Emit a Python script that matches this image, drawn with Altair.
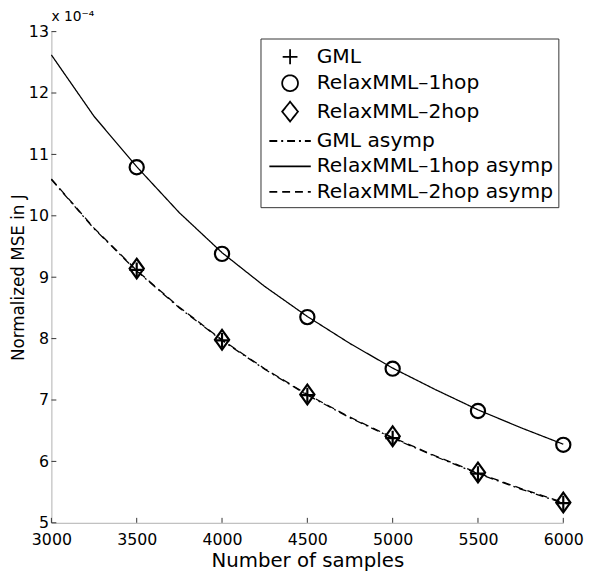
import altair as alt
import pandas as pd

FONT = "DejaVu Sans"

# asymptotic curves (values in units of 1e-4)
x_curve = [3000, 3250, 3500, 3750, 4000, 4250, 4500, 4750, 5000, 5250, 5500, 5750, 6000]
gml_asymp = [10.59, 9.79, 9.10, 8.50, 7.97, 7.50, 7.08, 6.71, 6.38, 6.08, 5.80, 5.55, 5.32]
one_hop_asymp = [12.62, 11.62, 10.80, 10.05, 9.40, 8.85, 8.36, 7.92, 7.52, 7.17, 6.84, 6.55, 6.28]
two_hop_asymp = [10.60, 9.80, 9.11, 8.51, 7.98, 7.51, 7.09, 6.72, 6.39, 6.09, 5.81, 5.56, 5.33]

# simulated points
x_markers = [3500, 4000, 4500, 5000, 5500, 6000]
gml = [9.12, 7.97, 7.08, 6.38, 5.80, 5.32]
one_hop = [10.79, 9.38, 8.35, 7.51, 6.82, 6.27]
two_hop = [9.14, 7.98, 7.09, 6.41, 5.82, 5.33]

series_markers = ["GML", "RelaxMML\u20131hop", "RelaxMML\u20132hop"]
series_lines = ["GML asymp", "RelaxMML\u20131hop asymp", "RelaxMML\u20132hop asymp"]
all_series = series_markers + series_lines

x_ticks = [3000, 3500, 4000, 4500, 5000, 5500, 6000]
y_ticks = [5, 6, 7, 8, 9, 10, 11, 12, 13]

rows = []
for name, vals in zip(series_lines, [gml_asymp, one_hop_asymp, two_hop_asymp]):
    for xv, yv in zip(x_curve, vals):
        rows.append({"x": xv, "y": yv, "series": name})
df_lines = pd.DataFrame(rows)

rows = []
for name, vals in zip(series_markers, [gml, one_hop, two_hop]):
    for xv, yv in zip(x_markers, vals):
        rows.append({"x": xv, "y": yv, "series": name})
df_points = pd.DataFrame(rows)

df_xt = pd.DataFrame({"x": x_ticks})
df_yt = pd.DataFrame({"y": y_ticks})

xscale = alt.Scale(domain=[3000, 6000], nice=False, zero=False)
yscale = alt.Scale(domain=[5, 13], nice=False, zero=False)

x_axis = alt.Axis(values=x_ticks, format="d", ticks=False, grid=False,
                  labelFlush=False, labelOverlap=False, labelPadding=9,
                  title="Number of samples", titlePadding=3)
y_axis = alt.Axis(values=y_ticks, format="d", ticks=False, grid=False,
                  labelPadding=3, labelOverlap=False,
                  title="Normalized MSE in J", titlePadding=1, titleFontSize=17)

color_scale = alt.Scale(domain=all_series, range=["black"] * 6)

plus_p = "M-0.75,0H0.75M0,-0.75V0.75"
circle_p = "M0.72,0A0.72,0.72,0,1,1,-0.72,0A0.72,0.72,0,1,1,0.72,0Z"
diamond_p = "M0,-1L0.72,0L0,1L-0.72,0Z"

sym_expr = ("datum.index == 0 ? 'M-0.6,0H0.6M0,-0.6V0.6' : "
            "datum.index == 1 ? 'M0.64,0A0.64,0.64,0,1,1,-0.64,0A0.64,0.64,0,1,1,0.64,0Z' : "
            "datum.index == 2 ? 'M0,-0.8L0.64,0L0,0.8L-0.64,0Z' : 'M-1.68,0H1.68'")
dash_expr = "datum.index == 3 ? [8,4,2,4] : datum.index == 5 ? [8,5] : [1,0]"

legend = alt.Legend(
    title=None, orient="none", legendX=212, legendY=7,
    fillColor="white", strokeColor="#333", padding=5,
    labelFont=FONT, labelFontSize=20.5, labelColor="black", labelLimit=400,
    labelOffset=13.5, rowPadding=1.8,
    symbolSize=625, symbolStrokeWidth=1.8, symbolOffset=11.5,
    symbolStrokeColor="black", symbolFillColor="transparent",
    symbolType=alt.ExprRef(expr=sym_expr),
    symbolDash=alt.ExprRef(expr=dash_expr),
)

lines = alt.Chart(df_lines).mark_line(strokeWidth=1.3).encode(
    x=alt.X("x:Q", scale=xscale, axis=x_axis),
    y=alt.Y("y:Q", scale=yscale, axis=y_axis),
    color=alt.Color("series:N", scale=color_scale, legend=legend),
    strokeDash=alt.StrokeDash("series:N",
                              scale=alt.Scale(domain=series_lines,
                                              range=[[8, 4, 2, 4], [1, 0], [8, 5]]),
                              legend=None),
    detail="series:N",
)

points = alt.Chart(df_points).mark_point(filled=False, size=400, strokeWidth=2.2, opacity=1).encode(
    x=alt.X("x:Q", scale=xscale, axis=x_axis),
    y=alt.Y("y:Q", scale=yscale, axis=y_axis),
    color=alt.Color("series:N", scale=color_scale, legend=legend),
    shape=alt.Shape("series:N",
                    scale=alt.Scale(domain=series_markers, range=[plus_p, circle_p, diamond_p]),
                    legend=None),
)

xt = alt.Chart(df_xt).mark_rule(color="#333", strokeWidth=1).encode(
    x=alt.X("x:Q", scale=xscale, axis=x_axis),
    y=alt.value(498), y2=alt.value(493),
)
yt = alt.Chart(df_yt).mark_rule(color="#333", strokeWidth=1).encode(
    y=alt.Y("y:Q", scale=yscale, axis=y_axis),
    x=alt.value(0), x2=alt.value(5),
)

chart = alt.layer(lines, points, xt, yt).properties(
    width=519, height=498,
    title=alt.TitleParams(text="x 10\u207b\u2074", anchor="start", frame="group",
                          font=FONT, fontSize=14, fontWeight="normal", color="black", offset=0),
    padding={"left": 44, "top": 20, "right": 21, "bottom": 50},
    autosize=alt.AutoSizeParams(type="none"),
).configure_view(stroke=None).configure_axis(
    labelFont=FONT, labelFontSize=16, labelColor="black",
    titleFont=FONT, titleFontSize=20, titleFontWeight="normal", titleColor="black",
    domainColor="#b0b0b0", domainWidth=1,
)

chart.save("out.html", embed_options={"renderer": "svg", "actions": False})
